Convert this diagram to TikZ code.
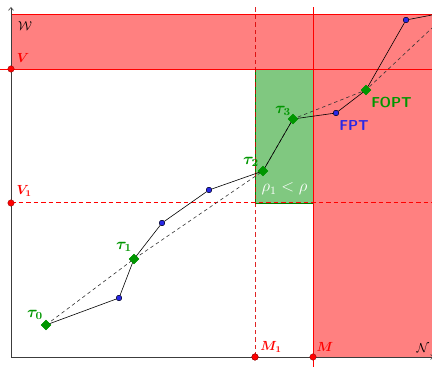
\documentclass[tikz,border=0pt]{standalone}
\usepackage{amsmath,bm}
\usetikzlibrary{shapes.geometric,arrows.meta}
\definecolor{redfill}{RGB}{255,128,128}
\definecolor{greenfill}{RGB}{128,200,128}
\definecolor{ptgreen}{RGB}{0,150,0}
\definecolor{ptblue}{RGB}{40,40,230}
\definecolor{axisgray}{RGB}{60,60,60}
\tikzset{
  redpt/.style={circle,fill=red,draw=red!50!black,line width=0.3pt,inner sep=0pt,minimum size=6.5pt},
  bluept/.style={circle,fill=ptblue,draw=black,line width=0.3pt,inner sep=0pt,minimum size=5.5pt},
  taupt/.style={diamond,fill=ptgreen,inner sep=0pt,minimum size=10.5pt},
  taulbl/.style={text=ptgreen,font=\fontsize{12}{14}\selectfont,scale=1.35},
  redlbl/.style={text=red,font=\fontsize{12}{14}\selectfont,scale=1.1},
  curve/.style={draw=black,line width=0.6pt},
  guide/.style={draw=black!80,line width=0.6pt,dash pattern=on 3.5pt off 3pt},
  reddash/.style={color=red,line width=1pt,dash pattern=on 4.5pt off 3pt}
}
\begin{document}
\begin{tikzpicture}[x=1pt,y=1pt]
\useasboundingbox (0,0) rectangle (432,367);
% regions
\fill[redfill] (11,298) rectangle (432,353);
\fill[redfill] (313,10) rectangle (432,298);
\fill[greenfill] (255,164) rectangle (313,298);
\draw[green!50!black,line width=0.6pt] (255,164) rectangle (313,298);
% red lines
\draw[red,line width=0.7pt] (11,353) -- (432,353);
\draw[red,line width=0.7pt] (0,298) -- (432,298);
\draw[red,line width=0.7pt] (313,0) -- (313,360);
\draw[reddash] (11,164) -- (432,164);
\foreach \yy in {10,17.5,...,355} {
  \fill[red!85!black,opacity=0.85] (254.55,\yy) rectangle (255.45,\yy+4.5);
}
% axes
\draw[axisgray,line width=0.6pt,-{Straight Barb[length=3pt,width=5pt]}] (11,9) -- (11,360);
\draw[axisgray,line width=0.6pt,-{Straight Barb[length=3pt,width=5pt]}] (11,10) -- (434,10);
% points
\node[redpt] (V) at (11,298) {};
\node[redpt] (V1) at (11,164) {};
\node[redpt] (M1) at (255,10) {};
\node[redpt] (M) at (313,10) {};
\coordinate (gend) at (432,339);
\coordinate (cend) at (432,352);
% markers
\node[taupt] (t0) at (46,42) {};
\node[bluept] (b1) at (119,69) {};
\node[taupt] (t1) at (134,108) {};
\node[bluept] (b2) at (162,144) {};
\node[bluept] (b3) at (209,177) {};
\node[taupt] (t2) at (263,196) {};
\node[taupt] (t3) at (293,248) {};
\node[bluept] (fpt) at (336,254) {};
\node[taupt] (fopt) at (366,277) {};
\node[bluept] (b4) at (406,347) {};
% guide (dashed)
\path[guide] (t0.center) -- (t1.center) -- (t2.center) -- (t3.center) -- (fopt.center) -- (gend);
% curve
\path[curve] (t0.center) -- (b1) -- (t1.center) -- (b2) -- (b3) -- (t2.center) -- (t3.center) -- (fpt) -- (fopt.center) -- (b4) -- (cend);
% redraw markers on top
\node[taupt] at (t0) {};
\node[taupt] at (t1) {};
\node[taupt] at (t2) {};
\node[taupt] at (t3) {};
\node[taupt] at (fopt) {};
\node[bluept] at (b1) {};
\node[bluept] at (b2) {};
\node[bluept] at (b3) {};
\node[bluept] at (fpt) {};
\node[bluept] at (b4) {};
\node[redpt] at (M1) {};
% labels
\node[font=\fontsize{12}{14}\selectfont,scale=1.08] (Wl) at (25,341) {$\mathcal{W}$};
\node[font=\fontsize{12}{14}\selectfont,scale=1.08] (Nl) at (423,19) {$\mathcal{N}$};
\node[redlbl] (Vl) at (23,309) {$\bm{V}$};
\node[redlbl] (V1l) at (24,176) {$\bm{V_1}$};
\node[redlbl] (M1l) at (271,20) {$\bm{M_1}$};
\node[redlbl] (Ml) at (325,20) {$\bm{M}$};
\node[taulbl] (t0l) at (35,52) {$\bm{\tau_0}$};
\node[taulbl] (t1l) at (124,120) {$\bm{\tau_1}$};
\node[taulbl] (t2l) at (251,205) {$\bm{\tau_2}$};
\node[taulbl] (t3l) at (283,256) {$\bm{\tau_3}$};
\node[text=ptblue,font=\fontsize{14.4}{16}\selectfont\sffamily\bfseries] (fptl) at (354,241.5) {FPT};
\node[text=ptgreen,font=\fontsize{14.4}{16}\selectfont\sffamily\bfseries] (fopl) at (391.5,264.5) {FOPT};
\node[text=white,font=\fontsize{12}{14}\selectfont,scale=1.4] (rho) at (284.5,178) {$\rho_1<\rho$};
\end{tikzpicture}
\end{document}
